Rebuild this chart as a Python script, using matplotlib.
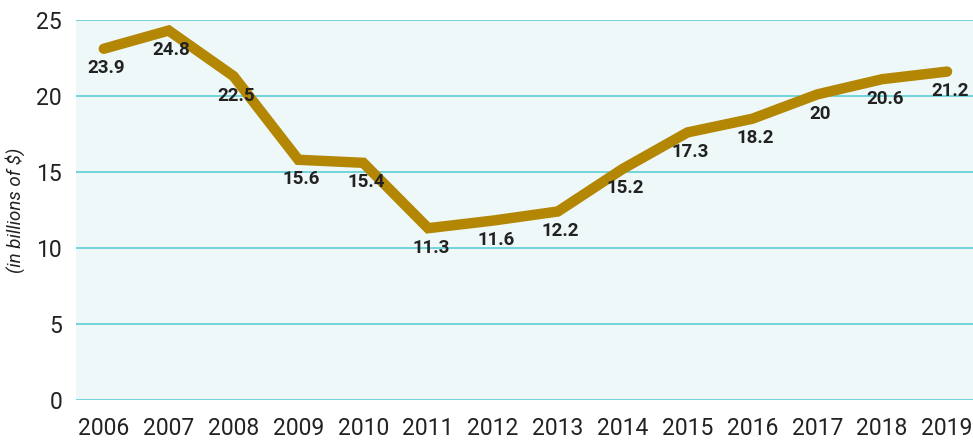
import numpy as np
import matplotlib.pyplot as plt

# values
years = [2006, 2007, 2008, 2009, 2010, 2011, 2012, 2013, 2014, 2015, 2016, 2017, 2018, 2019]
line_values = [23.1, 24.3, 21.3, 15.8, 15.6, 11.3, 11.8, 12.4, 15.2, 17.6, 18.5, 20.1, 21.1, 21.6]
value_labels = ["23.9", "24.8", "22.5", "15.6", "15.4", "11.3", "11.6", "12.2",
                "15.2", "17.3", "18.2", "20", "20.6", "21.2"]
y_ticks = [0, 5, 10, 15, 20, 25]

fig = plt.figure(figsize=(9.73, 4.42), dpi=100)
ax = fig.add_axes([0.078, 0.095, 0.922, 0.86])
ax.set_facecolor('#EEF8F8')

ax.plot(years, line_values, color='#B38604', linewidth=7.5,
        solid_capstyle='round', solid_joinstyle='miter', zorder=3)

for x, y, lab in zip(years, line_values, value_labels):
    ax.annotate(lab, (x, y), xytext=(2, -14), textcoords='offset points',
                ha='center', va='center', fontsize=13.5, fontweight='bold',
                color='#222222', family=['Roboto', 'DejaVu Sans'], zorder=4)

ax.set_xlim(2005.57, 2019.4)
ax.set_ylim(0, 25)
ax.set_yticks(y_ticks)
ax.set_xticks(years)
ax.grid(axis='y', color='#5CCFD6', linewidth=1.2)
ax.set_axisbelow(True)
for s in ax.spines.values():
    s.set_visible(False)

ax.tick_params(axis='both', length=0, labelsize=16.5, labelcolor='#222222')
ax.tick_params(axis='y', pad=10)
ax.tick_params(axis='x', pad=12)
for t in ax.get_xticklabels() + ax.get_yticklabels():
    t.set_family(['Roboto', 'DejaVu Sans'])

ax.set_ylabel('(in billions of $)', fontsize=13.5, fontstyle='italic',
              color='#222222', family=['Roboto', 'DejaVu Sans'], labelpad=8)

fig.savefig('out.png', dpi=100)
